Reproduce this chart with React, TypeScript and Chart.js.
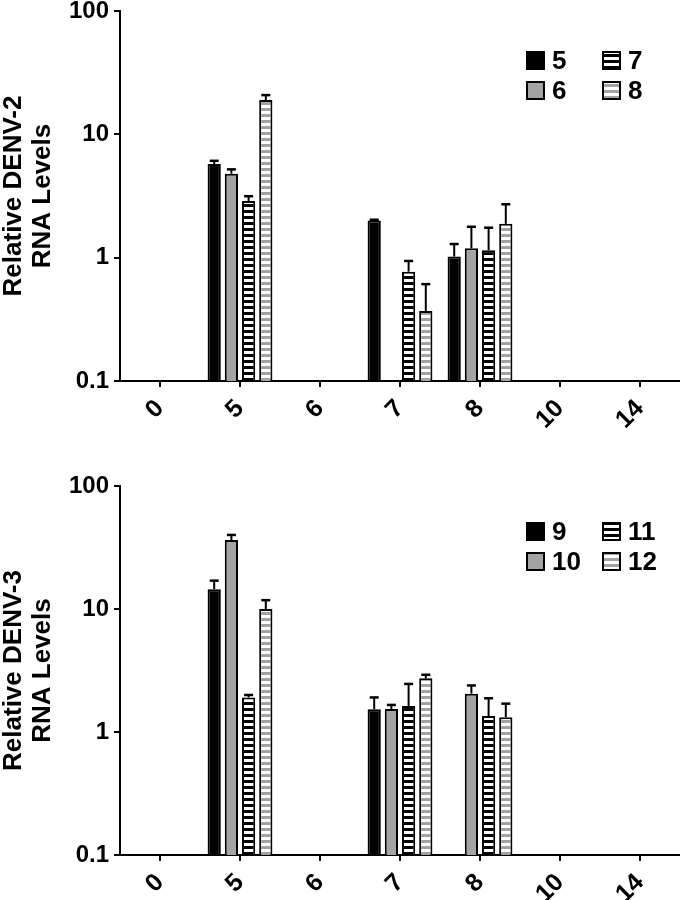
import React, { useEffect, useRef } from 'react';
import { Chart, registerables } from 'chart.js';
Chart.register(...registerables);

// ---- data ----
const days = ['0', '5', '6', '7', '8', '10', '14'];
const yTicks = [0.1, 1, 10, 100];

const denv2Series = ['5', '6', '7', '8'];
const denv2S5 = [null, 5.75, null, 2.0, 1.02, null, null];
const denv2S6 = [null, 4.8, null, null, 1.19, null, null];
const denv2S7 = [null, 2.88, null, 0.77, 1.15, null, null];
const denv2S8 = [null, 19.0, null, 0.37, 1.88, null, null];
const denv2E5 = [null, 6.1, null, 2.03, 1.29, null, null];
const denv2E6 = [null, 5.2, null, null, 1.78, null, null];
const denv2E7 = [null, 3.15, null, 0.94, 1.75, null, null];
const denv2E8 = [null, 20.8, null, 0.61, 2.71, null, null];

const denv3Series = ['9', '10', '11', '12'];
const denv3S9 = [null, 14.5, null, 1.53, null, null, null];
const denv3S10 = [null, 36.4, null, 1.54, 2.05, null, null];
const denv3S11 = [null, 1.91, null, 1.63, 1.35, null, null];
const denv3S12 = [null, 10.0, null, 2.73, 1.32, null, null];
const denv3E9 = [null, 17.0, null, 1.91, null, null, null];
const denv3E10 = [null, 40.0, null, 1.66, 2.39, null, null];
const denv3E11 = [null, 2.0, null, 2.46, 1.88, null, null];
const denv3E12 = [null, 11.8, null, 2.92, 1.70, null, null];

const FONT = "'Liberation Sans', Arial, sans-serif";
const GRAY = '#a3a3a3';

function makeStripe(bg: string): CanvasPattern | string {
  const c = document.createElement('canvas');
  c.width = 4;
  c.height = 6;
  const g = c.getContext('2d');
  if (!g) return bg;
  g.fillStyle = bg;
  g.fillRect(0, 0, 4, 6);
  g.fillStyle = '#ffffff';
  g.fillRect(0, 3, 4, 3);
  const ctx = document.createElement('canvas').getContext('2d');
  const p = ctx ? ctx.createPattern(c, 'repeat') : null;
  return p || bg;
}

const errorBarPlugin = {
  id: 'errbars',
  afterDatasetsDraw(chart: any, _args: any, opts: any) {
    const ctx = chart.ctx;
    const y = chart.scales.y;
    const errs: (number | null)[][] = opts.errors || [];
    chart.data.datasets.forEach((ds: any, i: number) => {
      const meta = chart.getDatasetMeta(i);
      meta.data.forEach((bar: any, j: number) => {
        const v = ds.data[j];
        const e = errs[i] ? errs[i][j] : null;
        if (v == null || e == null) return;
        const top = y.getPixelForValue(v);
        const ey = y.getPixelForValue(e);
        ctx.save();
        ctx.strokeStyle = '#000';
        ctx.lineWidth = 2;
        ctx.beginPath();
        ctx.moveTo(bar.x, top);
        ctx.lineTo(bar.x, ey);
        ctx.stroke();
        ctx.lineWidth = 2.5;
        ctx.beginPath();
        ctx.moveTo(bar.x - 4.5, ey);
        ctx.lineTo(bar.x + 4.5, ey);
        ctx.stroke();
        ctx.restore();
      });
    });
  },
};

const boxLegendPlugin = {
  id: 'boxlegend',
  afterDraw(chart: any, _args: any, opts: any) {
    const ctx = chart.ctx;
    const order: number[] = [0, 2, 1, 3];
    const cols = [opts.x, opts.x + 76];
    const rows = [opts.y, opts.y + 30];
    order.forEach((di, k) => {
      const ds = chart.data.datasets[di];
      const bx = cols[k % 2];
      const by = rows[Math.floor(k / 2)];
      ctx.save();
      ctx.fillStyle = ds.backgroundColor;
      ctx.fillRect(bx, by, 19, 19);
      ctx.strokeStyle = '#000';
      ctx.lineWidth = 2;
      ctx.strokeRect(bx + 1, by + 1, 17, 17);
      ctx.fillStyle = '#000';
      ctx.font = `bold 26px ${FONT}`;
      ctx.textBaseline = 'middle';
      ctx.textAlign = 'left';
      ctx.fillText(ds.label, bx + 26, by + 10.5);
      ctx.restore();
    });
  },
};

interface PanelProps {
  series: string[];
  values: (number | null)[][];
  errors: (number | null)[][];
  title: string[];
  top: number;
  xHeight: number;
  legendX: number;
  legendY: number;
}

function Panel(props: PanelProps) {
  const ref = useRef<HTMLCanvasElement | null>(null);
  useEffect(() => {
    if (!ref.current) return;
    const fills = ['#000000', GRAY, makeStripe('#000000'), makeStripe(GRAY)];
    const chart = new Chart(ref.current, {
      type: 'bar',
      data: {
        labels: days,
        datasets: props.series.map((s, i) => ({
          label: s,
          data: props.values[i] as any,
          backgroundColor: fills[i] as any,
          borderColor: '#000',
          borderWidth: 2,
          categoryPercentage: 0.86,
          barPercentage: 0.77,
        })),
      },
      options: {
        responsive: false,
        animation: false,
        layout: { padding: { top: props.top, left: 0, right: 0, bottom: 0 } },
        plugins: {
          legend: { display: false },
          tooltip: { enabled: false },
          errbars: { errors: props.errors },
          boxlegend: { x: props.legendX, y: props.legendY },
        } as any,
        scales: {
          x: {
            type: 'category',
            offset: true,
            grid: {
              offset: false,
              drawOnChartArea: false,
              drawTicks: true,
              tickLength: 6,
              color: '#000',
              lineWidth: 2,
            },
            border: { display: true, color: '#000', width: 2 },
            ticks: {
              color: '#000',
              font: { family: FONT, size: 25, weight: 'bold' },
              minRotation: 45,
              maxRotation: 45,
              padding: 7,
              autoSkip: false,
            },
            afterFit: (s: any) => {
              s.height = props.xHeight;
              s.paddingLeft = 0;
              s.paddingRight = 0;
            },
          },
          y: {
            type: 'logarithmic',
            min: 0.1,
            max: 100,
            grid: {
              drawOnChartArea: false,
              drawTicks: true,
              tickLength: 6,
              color: '#000',
              lineWidth: 2,
            },
            border: { display: true, color: '#000', width: 2 },
            afterBuildTicks: (s: any) => {
              s.ticks = yTicks.map((v) => ({ value: v }));
            },
            ticks: {
              color: '#000',
              font: { family: FONT, size: 24, weight: 'bold' },
              padding: 5,
              callback: (v: any) => String(v),
            },
            title: {
              display: true,
              text: props.title,
              color: '#000',
              font: { family: FONT, size: 26, weight: 'bold', lineHeight: 1.1 },
              padding: { top: 0, bottom: 0 },
            },
            afterFit: (s: any) => {
              s.width = 120;
              s.paddingTop = 0;
              s.paddingBottom = 0;
            },
          },
        },
      },
      plugins: [errorBarPlugin, boxLegendPlugin],
    });
    return () => chart.destroy();
  }, []);
  return <canvas ref={ref} width={680} height={450} style={{ display: 'block' }} />;
}

export default function App() {
  useEffect(() => {
    document.body.style.margin = '0';
  }, []);
  return (
    <div style={{ width: 680, height: 900, background: '#fff' }}>
      <Panel
        series={denv2Series}
        values={[denv2S5, denv2S6, denv2S7, denv2S8]}
        errors={[denv2E5, denv2E6, denv2E7, denv2E8]}
        title={['Relative DENV-2', 'RNA Levels']}
        top={11}
        xHeight={69}
        legendX={526}
        legendY={51}
      />
      <Panel
        series={denv3Series}
        values={[denv3S9, denv3S10, denv3S11, denv3S12]}
        errors={[denv3E9, denv3E10, denv3E11, denv3E12]}
        title={['Relative DENV-3', 'RNA Levels']}
        top={36}
        xHeight={45}
        legendX={526}
        legendY={72}
      />
    </div>
  );
}
